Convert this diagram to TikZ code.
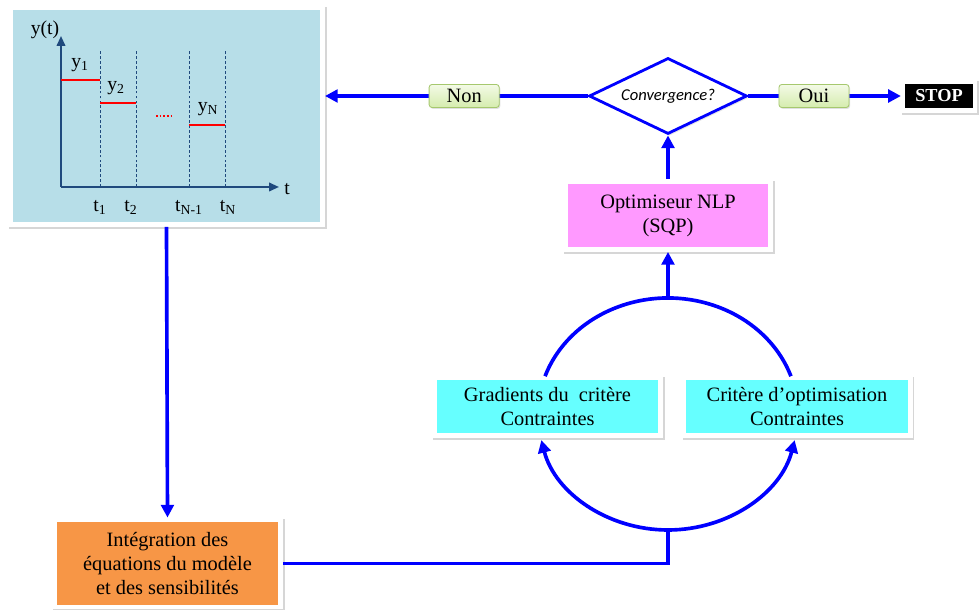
\documentclass[tikz,border=0pt]{standalone}
\usepackage{fontspec}
\setmainfont{Liberation Serif}
\newfontfamily\calibri{Carlito}
\usepackage{xcolor}
\usetikzlibrary{shapes.geometric, arrows.meta, positioning, calc, shadows}

\definecolor{panelblue}{HTML}{B7DEE8}
\definecolor{axisblue}{HTML}{1F497D}
\definecolor{optpink}{HTML}{FF99FF}
\definecolor{gradcyan}{HTML}{66FFFF}
\definecolor{integorange}{HTML}{F79646}
\definecolor{labgreen}{HTML}{D5ECAE}
\definecolor{labgreenlight}{HTML}{F3FAE6}
\definecolor{labborder}{HTML}{A6C86E}

\tikzset{
    flow/.style={draw=blue, line width=2.6pt, -{Triangle[length=9pt, width=9pt]}},
    flowline/.style={draw=blue, line width=2.6pt},
    softshadow/.style={general shadow={draw=black!35, fill=black!35, line width=4pt,
        opacity=0.45, shadow xshift=1.1pt, shadow yshift=-1.4pt}},
    box/.style={rectangle, draw=white, line width=3.5pt, align=center, softshadow,
        font=\fontsize{14.5}{17}\selectfont},
    yesno/.style={rectangle, rounded corners=2pt, draw=labborder, line width=0.6pt,
        top color=labgreenlight, bottom color=labgreen,
        general shadow={fill=black!40, opacity=0.3, shadow xshift=0.8pt, shadow yshift=-1pt},
        minimum width=1.75cm, minimum height=0.575cm, inner sep=0pt,
        font=\fontsize{14.5}{17}\selectfont},
    plotlab/.style={inner sep=0pt, font=\fontsize{14}{16}\selectfont},
    grid/.style={axisblue, line width=0.6pt, dash pattern=on 2pt off 1.5pt},
    level/.style={red, line width=2pt}
}

\begin{document}
\begin{tikzpicture}[x=0.025cm, y=0.025cm]
                    \useasboundingbox[fill=white] (0,0) rectangle (980,610);

                    % echelons de commande
                    \node[box, fill=panelblue, minimum width=7.8cm, minimum height=5.425cm] (panel) at (166.5,494) {};
                    \draw[grid] (100,423) -- (100,560);
                    \draw[grid] (136,423) -- (136,560);
                    \draw[grid] (189,423) -- (189,560);
                    \draw[grid] (225,423) -- (225,560);
                    \draw[axisblue, line width=1.4pt, -{Triangle[length=7pt, width=6pt]}] (61,423) -- (61,574);
                    \draw[axisblue, line width=1.4pt, -{Triangle[length=7pt, width=6pt]}] (61,423) -- (279,423);
                    \draw[level] (61,530) -- (100,530);
                    \draw[level] (100,507) -- (136,507);
                    \draw[level] (189,485) -- (225,485);
                    \draw[red, line width=1.5pt, dash pattern=on 1.2pt off 1.4pt] (156,494) -- (172,494);

                    \node[plotlab] (ylab) at (45,580) {y(t)};
                    \node[plotlab] (tlab) at (287,421) {t};
                    \node[plotlab] (y1) at (80,545) {y\textsubscript{1}};
                    \node[plotlab] (y2) at (116,522) {y\textsubscript{2}};
                    \node[plotlab] (yN) at (208,501) {y\textsubscript{N}};
                    \node[plotlab] (t1) at (100,403) {t\textsubscript{1}};
                    \node[plotlab] (t2) at (131,403) {t\textsubscript{2}};
                    \node[plotlab] (tNm) at (189,403) {t\textsubscript{N-1}};
                    \node[plotlab] (tN) at (228,403) {t\textsubscript{N}};

                    % test d'arret
                    \node[diamond, draw=blue, line width=2pt, fill=white, aspect=2.08,
                        minimum width=3.95cm, minimum height=1.9cm, inner sep=0pt,
                        general shadow={fill=black!40, opacity=0.25, shadow xshift=1pt, shadow yshift=-1.5pt},
                        font=\calibri\itshape\fontsize{11.8}{13}\selectfont] (conv) at (668,514) {Convergence?};
                    \node[box, fill=black, text=white, line width=3pt, minimum width=1.8cm, minimum height=0.725cm,
                        font=\bfseries\fontsize{13}{15}\selectfont] (stop) at (939,514) {STOP};

                    \node[box, fill=optpink, minimum width=5.125cm, minimum height=1.7cm] (opt) at (668,394.5) {Optimiseur NLP\\(SQP)};
                    \node[box, fill=gradcyan, minimum width=5.65cm, minimum height=1.45cm] (grad) at (547.5,203.5) {Gradients du\ \ critère\\Contraintes};
                    \node[box, fill=gradcyan, minimum width=5.65cm, minimum height=1.45cm] (crit) at (797,203.5) {Critère d’optimisation\\Contraintes};
                    \node[box, fill=integorange, minimum width=5.65cm, minimum height=2.175cm] (integ) at (167.5,46.5) {Intégration des\\équations du modèle\\et des sensibilités};

                    \coordinate (loopC) at (668,196);
                    \coordinate (loopTop) at (668,312);
                    \coordinate (loopBot) at (668,80);

                    \draw[flow] (conv.west) to node[yesno, pos=0.47] (non) {Non} (conv.west -| panel.east);
                    \draw[flow] (conv.east) to node[yesno, pos=0.43] (oui) {Oui} (stop.west);
                    \draw[flow] (opt.north) to (conv.south);
                    \draw[flow] (loopTop) to (opt.south);
                    \draw[flowline] ([shift={(161:130 and 116)}]loopC) arc[start angle=161, end angle=19, x radius=130, y radius=116];
                    \draw[flow] (loopBot) arc[start angle=270, end angle=193, x radius=130, y radius=116];
                    \draw[flow] (loopBot) arc[start angle=270, end angle=347, x radius=130, y radius=116];
                    \draw[flowline] (integ.east) -| (loopBot);
                    \draw[flow] (panel.south) to (integ.north);
                \end{tikzpicture}
\end{document}
